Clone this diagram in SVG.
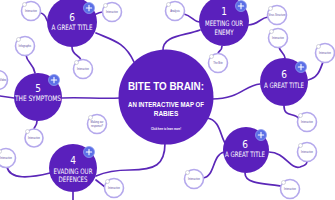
<svg xmlns="http://www.w3.org/2000/svg" width="335" height="200" viewBox="0 0 335 200">
<style>
.bg{fill:#ffffff}
.conn path{fill:none;stroke:#5b27b8;stroke-width:1.7;stroke-linecap:round}
.node{fill:#5a20bc}
.plus circle{fill:#5b6fe6;stroke:#8e9cf0;stroke-width:0.8}
.plus path{stroke:#ffffff;stroke-width:1.1;stroke-linecap:round}
.num{font-family:"DejaVu Sans Condensed","DejaVu Sans",sans-serif;font-size:10px;fill:#ffffff;text-anchor:middle}
.ttl{font-family:"DejaVu Sans Condensed","DejaVu Sans",sans-serif;font-size:7.5px;fill:#ffffff;text-anchor:middle}
.big{font-family:"Liberation Sans",Arial,sans-serif;font-weight:bold;fill:#ffffff;text-anchor:middle}
.bub circle.r{fill:#ffffff;stroke:#b4a8ec;stroke-width:1.6}
.bub circle.d{fill:#ffffff;stroke:#b8b8c8;stroke-width:0.6}
.bub text{font-family:"Liberation Sans",Arial,sans-serif;font-size:2.6px;fill:#5b4aa0;text-anchor:middle}
</style>
<rect class="bg" x="0" y="0" width="335" height="200"/>
<g id="connectors" class="conn">
<path d="M96 33 C112 40 125 42 134 62"/>
<path d="M163 51 C162 35 185 36 200 30"/>
<path d="M184 14 C192 16 194 22 200 22"/>
<path d="M222 46 C222 52 218 50 218 54"/>
<path d="M248 25 C258 25 260 18 268 17"/>
<path d="M212 99 C240 99 245 85 260 84"/>
<path d="M279 47 C280 52 285 54 285 58"/>
<path d="M308 80 C318 78 320 70 323 62"/>
<path d="M284 106 C284 118 295 112 299 119"/>
<path d="M207 118 C220 120 220 135 225 143"/>
<path d="M269 152 C285 152 290 170 300 167 C306 165 307 164 307 161"/>
<path d="M245 173 C245 182 255 183 281 186"/>
<path d="M203 178 C215 177 212 155 224 152"/>
<path d="M165 143 C165 165 155 170 130 170 C115 170 105 172 96 176"/>
<path d="M96 180 C100 183 102 185 105 187"/>
<path d="M7 167 C10 180 30 178 50 173"/>
<path d="M73 192 L73 200"/>
<path d="M62 98 C80 97 100 99 120 98"/>
<path d="M14 98 L0 96"/>
<path d="M26 55 C27 63 33 63 35 73"/>
<path d="M37 121 C37 126 34 127 34 129"/>
<path d="M40 13 C46 13 46 20 48 22"/>
<path d="M94 15 C98 13 100 12 103 12"/>
<path d="M72 47 C72 56 80 55 81 60"/>
</g>
<g id="center">
<circle class="node" cx="166" cy="97" r="47.5"/>
<text class="big" x="166" y="90" font-size="10.5" textLength="76" lengthAdjust="spacingAndGlyphs">BITE TO BRAIN:</text>
<text class="big" x="166" y="107" font-size="6.5" textLength="76" lengthAdjust="spacingAndGlyphs">AN INTERACTIVE MAP OF</text>
<text class="big" x="166" y="116" font-size="6.5">RABIES</text>
<text class="big" x="166" y="130" font-size="3" textLength="30" lengthAdjust="spacingAndGlyphs">Click here to learn more!</text>
</g>
<g id="node-6a">
<circle class="node" cx="72" cy="22" r="25"/>
<text class="num" x="72" y="21">6</text>
<text class="ttl" x="72" y="30" textLength="41" lengthAdjust="spacingAndGlyphs">A GREAT TITLE</text>
<g class="plus"><circle cx="89" cy="8" r="5.5"/><path d="M86.3 8 H91.7 M89 5.3 V10.7"/></g>
</g>
<g id="node-1">
<circle class="node" cx="224" cy="21" r="25"/>
<text class="num" x="224" y="15">1</text>
<text class="ttl" x="224" y="26" textLength="38" lengthAdjust="spacingAndGlyphs">MEETING OUR</text>
<text class="ttl" x="224" y="35" textLength="19" lengthAdjust="spacingAndGlyphs">ENEMY</text>
<g class="plus"><circle cx="241" cy="6" r="5.5"/><path d="M238.3 6 H243.7 M241 3.3 V8.7"/></g>
</g>
<g id="node-6b">
<circle class="node" cx="284" cy="82" r="24"/>
<text class="num" x="284" y="78">6</text>
<text class="ttl" x="284" y="88" textLength="40" lengthAdjust="spacingAndGlyphs">A GREAT TITLE</text>
<g class="plus"><circle cx="301" cy="67" r="5.5"/><path d="M298.3 67 H303.7 M301 64.3 V69.7"/></g>
</g>
<g id="node-5">
<circle class="node" cx="38" cy="97" r="24"/>
<text class="num" x="38" y="92">5</text>
<text class="ttl" x="38" y="101" textLength="46" lengthAdjust="spacingAndGlyphs">THE SYMPTOMS</text>
<g class="plus"><circle cx="54" cy="80" r="5.5"/><path d="M51.3 80 H56.7 M54 77.3 V82.7"/></g>
</g>
<g id="node-4">
<circle class="node" cx="73" cy="168" r="24"/>
<text class="num" x="73" y="164">4</text>
<text class="ttl" x="73" y="174" textLength="39" lengthAdjust="spacingAndGlyphs">EVADING OUR</text>
<text class="ttl" x="73" y="182" textLength="29" lengthAdjust="spacingAndGlyphs">DEFENCES</text>
<g class="plus"><circle cx="89" cy="152" r="5.5"/><path d="M86.3 152 H91.7 M89 149.3 V154.7"/></g>
</g>
<g id="node-6c">
<circle class="node" cx="246" cy="150" r="23"/>
<text class="num" x="245" y="148">6</text>
<text class="ttl" x="245" y="157" textLength="40" lengthAdjust="spacingAndGlyphs">A GREAT TITLE</text>
<g class="plus"><circle cx="261" cy="135" r="5.5"/><path d="M258.3 135 H263.7 M261 132.3 V137.7"/></g>
</g>
<g id="bubble-1" class="bub"><circle class="r" cx="31" cy="11" r="9.5"/><circle class="d" cx="24.5" cy="4.5" r="2"/><text x="31" y="12">Interactive</text></g>
<g id="bubble-2" class="bub"><circle class="r" cx="25" cy="46" r="9.5"/><circle class="d" cx="18.5" cy="39.5" r="2"/><text x="25" y="47">Infographic</text></g>
<g id="bubble-3" class="bub"><circle class="r" cx="83" cy="69" r="9.5"/><circle class="d" cx="76.5" cy="62.5" r="2"/><text x="83" y="70">Interactive</text></g>
<g id="bubble-4" class="bub"><circle class="r" cx="-2" cy="80" r="9.5"/><text x="3" y="81">Video</text></g>
<g id="bubble-5" class="bub"><circle class="r" cx="97" cy="124" r="9.5"/><circle class="d" cx="90.5" cy="117.5" r="2"/><text x="97" y="123">Making our</text><text x="97" y="127">response?</text></g>
<g id="bubble-6" class="bub"><circle class="r" cx="34" cy="138" r="9"/><circle class="d" cx="27.5" cy="131.5" r="2"/><text x="34" y="139">Interactive</text></g>
<g id="bubble-7" class="bub"><circle class="r" cx="6" cy="158" r="9.5"/><circle class="d" cx="-0.5" cy="151.5" r="2"/><text x="6" y="159">Interactive</text></g>
<g id="bubble-9" class="bub"><circle class="r" cx="114" cy="188" r="9.5"/><circle class="d" cx="107.5" cy="181.5" r="2"/><text x="114" y="189">Interactive</text></g>
<g id="bubble-10" class="bub"><circle class="r" cx="194" cy="179" r="9.5"/><circle class="d" cx="187.5" cy="172.5" r="2"/><text x="194" y="180">Interactive</text></g>
<g id="bubble-11" class="bub"><circle class="r" cx="307" cy="152" r="9.5"/><circle class="d" cx="300.5" cy="145.5" r="2"/><text x="307" y="153">Interactive</text></g>
<g id="bubble-12" class="bub"><circle class="r" cx="290" cy="189" r="9.5"/><circle class="d" cx="283.5" cy="182.5" r="2"/><text x="290" y="190">Interactive</text></g>
<g id="bubble-13" class="bub"><circle class="r" cx="307" cy="122" r="9.5"/><circle class="d" cx="300.5" cy="115.5" r="2"/><text x="307" y="123">Interactive</text></g>
<g id="bubble-14" class="bub"><circle class="r" cx="112" cy="12" r="9.5"/><circle class="d" cx="105.5" cy="5.5" r="2"/><text x="112" y="13">Interactive</text></g>
<g id="bubble-15" class="bub"><circle class="r" cx="175" cy="11" r="9.5"/><circle class="d" cx="168.5" cy="4.5" r="2"/><text x="175" y="12">Analysis</text></g>
<g id="bubble-16" class="bub"><circle class="r" cx="218" cy="63" r="9.5"/><circle class="d" cx="211.5" cy="56.5" r="2"/><text x="218" y="64">The Bite</text></g>
<g id="bubble-17" class="bub"><circle class="r" cx="277" cy="15" r="9.5"/><circle class="d" cx="270.5" cy="8.5" r="2"/><text x="277" y="16">Virus Structure</text></g>
<g id="bubble-18" class="bub"><circle class="r" cx="278" cy="38" r="9.5"/><circle class="d" cx="271.5" cy="31.5" r="2"/><text x="278" y="39">Interactive</text></g>
<g id="bubble-19" class="bub"><circle class="r" cx="325" cy="53" r="9.5"/><circle class="d" cx="318.5" cy="46.5" r="2"/><text x="325" y="54">Interactive</text></g>
</svg>
